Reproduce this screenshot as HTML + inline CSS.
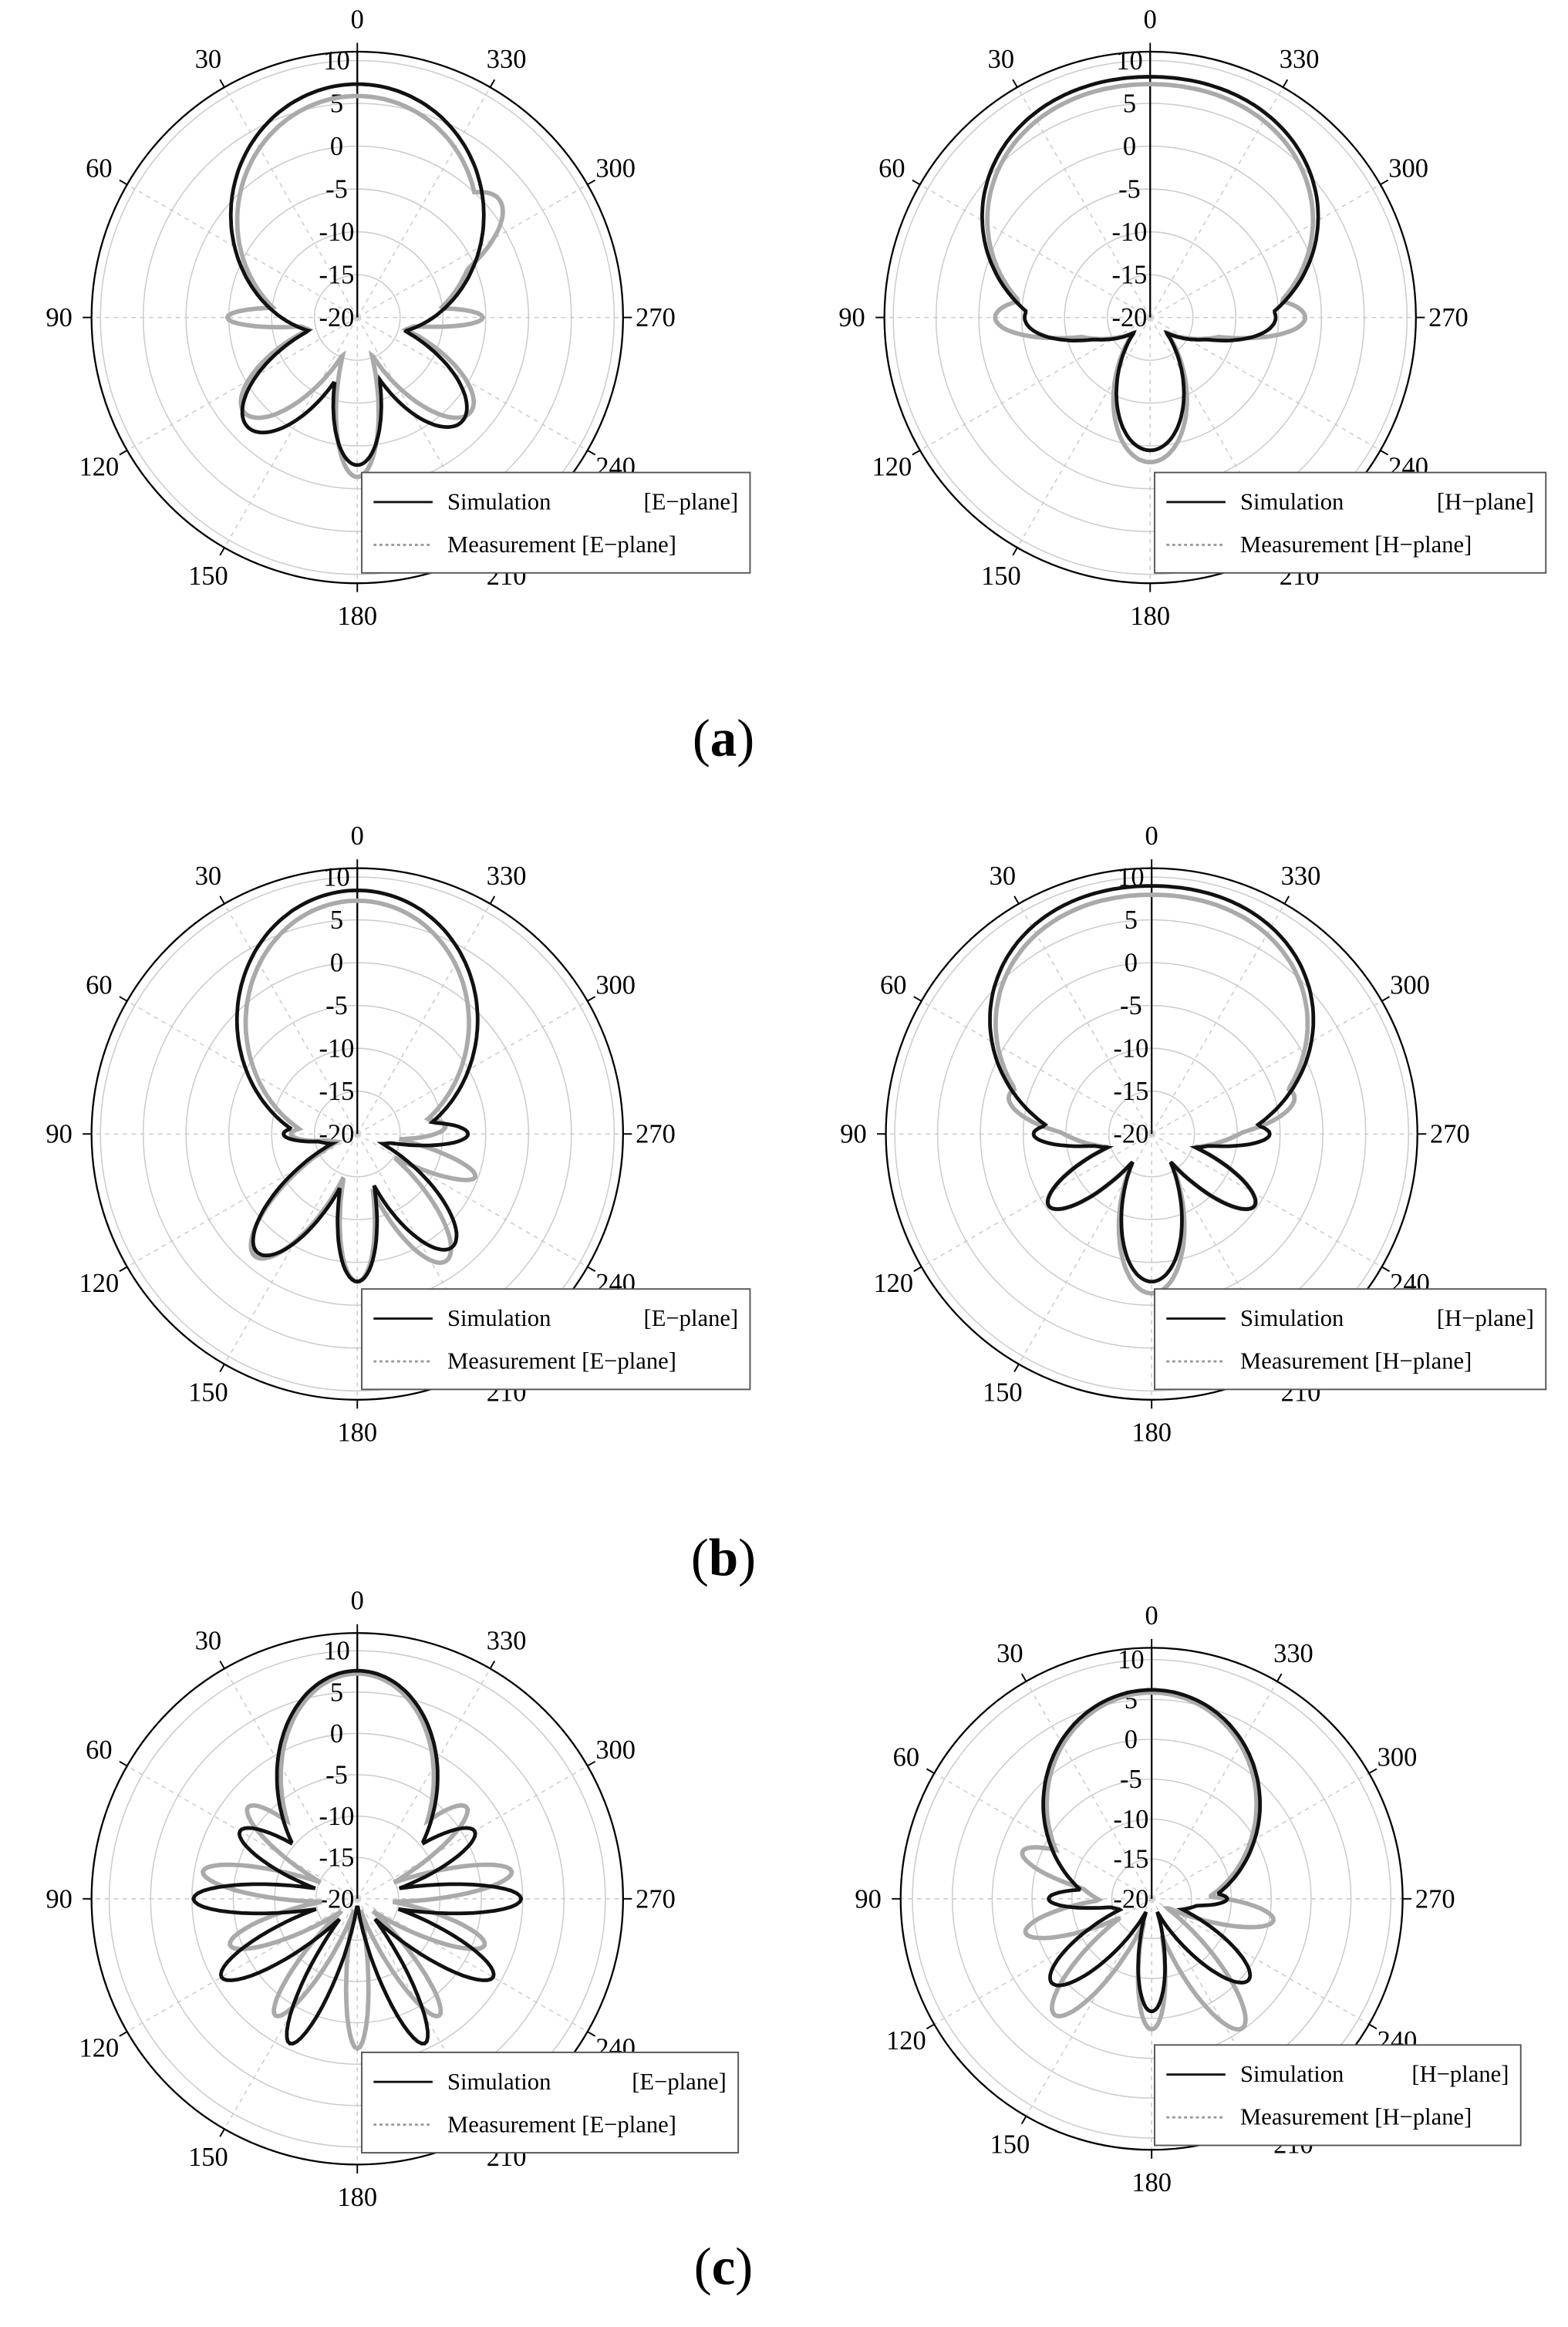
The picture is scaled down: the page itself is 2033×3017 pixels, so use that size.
<!DOCTYPE html>
<html><head><meta charset="utf-8">
<style>html,body{margin:0;padding:0;background:#fff}svg{display:block}</style>
</head><body>
<svg id="s" width="2033" height="3017" viewBox="0 0 1062 1576" xmlns="http://www.w3.org/2000/svg" font-family="'Liberation Serif',serif">
<rect width="1062" height="1576" fill="#fff"/>
<g id="g"></g>
<text x="490" y="512" font-size="36" text-anchor="middle">(<tspan font-weight="bold">a</tspan>)</text>
<text x="490" y="1067" font-size="36" text-anchor="middle">(<tspan font-weight="bold">b</tspan>)</text>
<text x="490" y="1547" font-size="36" text-anchor="middle">(<tspan font-weight="bold">c</tspan>)</text>
</svg>
<script>
var NS="http://www.w3.org/2000/svg",G=document.getElementById("g");
function el(t,a,txt){var e=document.createElementNS(NS,t);for(var k in a)e.setAttribute(k,a[k]);if(txt!=null)e.textContent=txt;G.appendChild(e);return e;}
function pt(cx,cy,r,d){var t=d*Math.PI/180;return [cx-r*Math.sin(t),cy-r*Math.cos(t)];}
function curve(cx,cy,lobes,sc,col,w,dash){var s="";for(var d=0;d<=360;d+=1){var r=6;lobes.forEach(function(l){var dd=Math.abs(((d-l[0])%360+540)%360-180);var ex=l[3]||2;var v=l[1]*Math.exp(-Math.pow(dd/l[2],ex));if(v>r)r=v;});r*=sc;var p=pt(cx,cy,r,d);s+=(d?"L":"M")+p[0].toFixed(1)+" "+p[1].toFixed(1);}
var a={d:s+"Z",fill:"none",stroke:col,"stroke-width":w};if(dash)a["stroke-dasharray"]=dash;el("path",a);}
function plot(cx,cy,R,step,plane,lx,ly,lw,sim,mea){
 var sc=step/29;
 for(var i=1;i<=6;i++)el("circle",{cx:cx,cy:cy,r:i*step,fill:"none",stroke:"#ccc","stroke-width":0.8});
 for(var a=0;a<360;a+=30){var p=pt(cx,cy,R,a);el("line",{x1:cx,y1:cy,x2:p[0],y2:p[1],stroke:"#ccc","stroke-width":0.8,"stroke-dasharray":"3 3"});
  var q=pt(cx,cy,R+6,a);el("line",{x1:p[0],y1:p[1],x2:q[0],y2:q[1],stroke:"#000","stroke-width":1});
  var l=pt(cx,cy,R+22,a);el("text",{x:l[0],y:l[1]+6,"font-size":18,"text-anchor":"middle"},String(a));}
 el("circle",{cx:cx,cy:cy,r:R,fill:"none",stroke:"#000","stroke-width":1.2});
 el("line",{x1:cx,y1:cy,x2:cx,y2:cy-R,stroke:"#000","stroke-width":1.2});
 var v=[-20,-15,-10,-5,0,5,10];for(var i=0;i<7;i++)el("text",{x:cx-14,y:cy-i*step+6,"font-size":18,"text-anchor":"middle"},String(v[i]));
 curve(cx,cy,mea,sc,"#aaa",3,"");curve(cx,cy,sim,sc,"#111",2.5,"");
 el("rect",{x:lx,y:ly,width:lw,height:68,fill:"#fff",stroke:"#555","stroke-width":1});
 el("line",{x1:lx+8,y1:ly+20,x2:lx+48,y2:ly+20,stroke:"#111","stroke-width":1.5});
 el("line",{x1:lx+8,y1:ly+49,x2:lx+48,y2:ly+49,stroke:"#999","stroke-width":1.5,"stroke-dasharray":"2 2"});
 el("text",{x:lx+58,y:ly+25,"font-size":16},"Simulation");
 el("text",{x:lx+lw-8,y:ly+25,"font-size":16,"text-anchor":"end"},"["+plane+"\u2212plane]");
 el("text",{x:lx+58,y:ly+54,"font-size":16},"Measurement ["+plane+"\u2212plane]");
}
plot(242,215,180,29,"E",245,320,263,
 [[0,158,85],[90,35,15],[135,105,28],[180,100,22],[225,100,28],[270,40,15]],
 [[0,150,85],[310,125,25],[90,88,10],[270,85,10],[130,100,25],[180,108,18],[230,100,25]]);
plot(779,215,180,29,"H",782,320,265,
 [[0,163,100,3],[90,85,25],[270,85,25],[180,90,35]],
 [[0,158,100,3],[90,105,18],[270,105,18],[180,98,35]]);
plot(242,768,180,29,"E",245,873,263,
 [[0,165,75],[90,50,14],[270,75,14],[140,105,22],[180,100,18],[220,100,22]],
 [[0,158,72],[90,45,14],[250,85,12],[275,60,14],[140,108,20],[180,100,16],[215,105,20]]);
plot(780,768,180,29,"H",782,873,265,
 [[0,168,90,3],[90,80,14],[270,80,14],[125,85,18],[235,85,18],[180,100,28]],
 [[0,162,90,3],[75,100,20],[285,100,20],[125,85,18],[235,85,18],[180,108,28]]);
plot(242,1286,180,28,"E",245,1390,255,
 [[0,160,50],[60,95,15],[90,115,12],[120,110,14],[155,112,12],[205,112,12],[240,110,14],[270,115,12],[300,95,15]],
 [[0,158,48],[50,100,14],[80,110,12],[110,95,13],[145,100,12],[180,105,10],[215,100,12],[250,95,13],[280,110,12],[310,100,14]]);
plot(780,1286,170,27,"H",782,1385,248,
 [[0,152,80],[90,75,12],[130,95,18],[180,82,16],[230,92,18],[270,55,12]],
 [[0,150,78],[70,100,14],[105,95,14],[140,110,16],[180,95,14],[215,115,16],[260,90,14]]);
</script>
</body></html>
